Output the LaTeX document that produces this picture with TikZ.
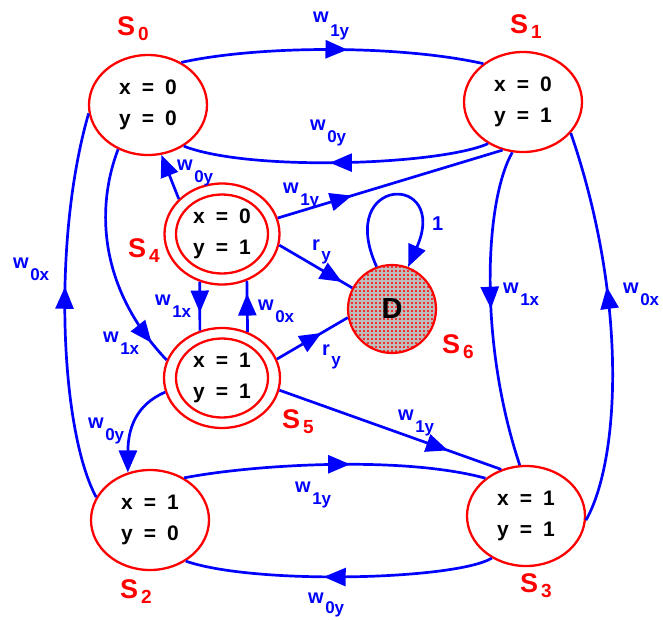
\documentclass[tikz,border=0pt]{standalone}
\usepackage{fontspec}
\setmainfont{Liberation Sans}
\usetikzlibrary{shapes.geometric,arrows.meta,decorations.markings,patterns}
\definecolor{eblue}{RGB}{0,0,255}
\definecolor{sred}{RGB}{255,0,0}
\definecolor{dgray}{RGB}{190,190,190}
\pgfdeclarepatternformonly{reddots}{\pgfqpoint{-1.2pt}{-1.2pt}}{\pgfqpoint{1.2pt}{1.2pt}}{\pgfqpoint{4pt}{4pt}}{%
  \pgfpathcircle{\pgfqpoint{0pt}{0pt}}{1.05pt}\pgfusepath{fill}}
\newcommand\wlab[3][12pt]{#2\kern1.5pt\raisebox{-#1}{\fontsize{17}{17}\selectfont #3}}
\newcommand\slab[1]{S\kern3pt\raisebox{-5pt}{\fontsize{19}{19}\selectfont #1}}
\newcommand\xyval[2]{x\hspace{11pt}=\hspace{11pt}#1\\y\hspace{11pt}=\hspace{11pt}#2}
\begin{document}
\begin{tikzpicture}[x=1pt,y=-1pt,
  >={Triangle[length=22pt,width=18pt]},
  vals/.style={font=\bfseries\fontsize{21}{31}\selectfont, align=center},
  state/.style={ellipse, draw=sred, line width=2.3pt, inner sep=0pt,
    minimum width=118pt, minimum height=100pt, vals},
  outerst/.style={ellipse, draw=sred, line width=2.3pt, inner sep=0pt,
    minimum width=115pt, minimum height=101pt},
  innerst/.style={ellipse, draw=sred, line width=2.3pt, inner sep=0pt,
    minimum width=92pt, minimum height=79pt, vals},
  edge/.style={color=eblue, line width=2.7pt},
  marr/.style={postaction={decorate,decoration={markings,
    mark=at position #1 with {\arrow{>}}}}},
  elab/.style={text=eblue, anchor=base west, inner sep=0pt,
    font=\bfseries\fontsize{20}{20}\selectfont},
  sname/.style={text=sred, anchor=base west, inner sep=0pt,
    font=\bfseries\fontsize{27}{27}\selectfont}
]
\useasboundingbox (0,0) rectangle (663,619);

% states
\node[state] (s0) at (148,105) {\xyval{0}{0}};
\node[state] (s1) at (523,102) {\xyval{0}{1}};
\node[state] (s2) at (150,520) {\xyval{1}{0}};
\node[state] (s3) at (526,516) {\xyval{1}{1}};
\node[outerst] (s4) at (222,234) {};
\node[innerst] (s4in) at (222,234) {\xyval{0}{1}};
\node[outerst, minimum width=116pt, minimum height=100pt] (s5) at (222,378) {};
\node[innerst] (s5in) at (222,378) {\xyval{1}{1}};
\node[circle, draw=sred, line width=2.2pt, minimum size=88pt, inner sep=0pt,
  preaction={fill=dgray}, pattern=reddots, pattern color=sred,
  font=\bfseries\fontsize{29}{29}\selectfont] (d) at (392,309) {D};

% state names
\node[sname] (n0) at (117,35) {\slab{0}};
\node[sname] (n1) at (510,33) {\slab{1}};
\node[sname] (n4) at (128,257) {\slab{4}};
\node[sname] (n5) at (282,428) {\slab{5}};
\node[sname] (n6) at (442,353) {\slab{6}};
\node[sname] (n2) at (120,598) {\slab{2}};
\node[sname] (n3) at (520,592) {\slab{3}};

% edges
\draw[edge, marr=0.55] (s0.52) .. controls (260,45) and (400,45) .. (s1.136);
\draw[edge, marr=0.52] (s1.230) .. controls (440,165) and (250,172) .. (s0.311);
\draw[edge, marr=0.33] (s4.16) -- (s1.247);
\draw[edge, marr=0.9] (s0.236) .. controls (95,210) and (100,290) .. (s5.162);
\draw[edge, marr=0.55] (s2.157) .. controls (60,430) and (52,240) .. (s0.188);
\draw[edge, ->] (s4.141) -- (s0.285);
\draw[edge, marr=0.86] (s4.349) -- (d.152);
\draw[edge, marr=0.63] (s4.245) -- (s5.115);
\draw[edge, marr=0.75] (s5.61) -- (s4.298.6);
\draw[edge, marr=0.63] (s5.19) -- (d.191);
\draw[edge, marr=0.76] (s5.348) -- (s3.118);
\draw[edge, ->] (s5.194) .. controls (135,405) and (128,430) .. (s2.115);
\draw[edge, marr=0.55] (s2.51) .. controls (250,465) and (400,455) .. (s3.137);
\draw[edge, marr=0.55] (s3.231) .. controls (455,580) and (255,585) .. (s2.311);
\draw[edge, marr=0.5] (s1.258) .. controls (485,200) and (478,340) .. (s3.97);
\draw[edge, marr=0.6] (s3.356) .. controls (620,460) and (628,300) .. (s1.327);
\draw[edge, ->] (d.110) .. controls (335,175) and (450,172) .. (d.69);

% edge labels
\node[elab] (l1) at (313,22) {\wlab[14pt]{w}{1y}};
\node[elab] (l2) at (310,130) {\wlab{w}{0y}};
\node[elab] (l3) at (283,193) {\wlab{w}{1y}};
\node[elab] (l4) at (103,342) {\wlab{w}{1x}};
\node[elab] (l5) at (13,268) {\wlab{w}{0x}};
\node[elab] (l6) at (177,170) {\wlab{w}{0y}};
\node[elab] (l7) at (312,250) {\wlab[10pt]{r}{y}};
\node[elab] (l8) at (155,305) {\wlab{w}{1x}};
\node[elab] (l9) at (258,310) {\wlab{w}{0x}};
\node[elab] (l10) at (322,355) {\wlab[10pt]{r}{y}};
\node[elab] (l11) at (398,420) {\wlab{w}{1y}};
\node[elab] (l12) at (88,428) {\wlab{w}{0y}};
\node[elab] (l13) at (295,492) {\wlab{w}{1y}};
\node[elab] (l14) at (308,603) {\wlab[10pt]{w}{0y}};
\node[elab] (l15) at (503,293) {\wlab{w}{1x}};
\node[elab] (l16) at (623,293) {\wlab{w}{0x}};
\node[elab] (l17) at (432,230) {1};
\end{tikzpicture}
\end{document}
